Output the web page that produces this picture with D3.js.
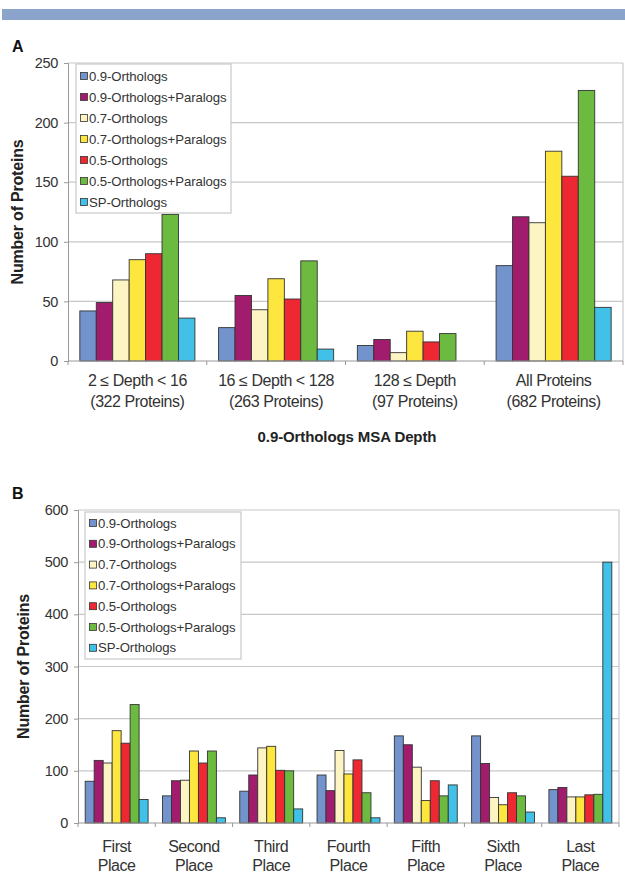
<!DOCTYPE html>
<html>
<head>
<meta charset="utf-8">
<script src="https://cdn.jsdelivr.net/npm/d3@7"></script>
<style>
  body { margin: 0; background: #fff; }
  svg { font-family: "Liberation Sans", Arial, sans-serif; }
</style>
</head>
<body>
<svg id="chart" width="625" height="873"></svg>
<script>
// series shared by both panels
const seriesNames = ["0.9-Orthologs", "0.9-Orthologs+Paralogs", "0.7-Orthologs",
  "0.7-Orthologs+Paralogs", "0.5-Orthologs", "0.5-Orthologs+Paralogs", "SP-Orthologs"];
const seriesColors = ["#7393cc", "#a11c6c", "#fdf4c4", "#fde63d", "#ee2833", "#6cbb40", "#41c1e7"];

// panel A
const depthCategories = [["2 \u2264 Depth < 16", "(322 Proteins)"], ["16 \u2264 Depth < 128", "(263 Proteins)"],
  ["128 \u2264 Depth", "(97  Proteins)"], ["All Proteins", "(682 Proteins)"]];
const depthValues = [
  [42, 28, 13, 80],    // 0.9-Orthologs
  [49, 55, 18, 121],   // 0.9-Orthologs+Paralogs
  [68, 43, 7, 116],    // 0.7-Orthologs
  [85, 69, 25, 176],   // 0.7-Orthologs+Paralogs
  [90, 52, 16, 155],   // 0.5-Orthologs
  [123, 84, 23, 227],  // 0.5-Orthologs+Paralogs
  [36, 10, 0, 45]      // SP-Orthologs
];
const depthTicks = [0, 50, 100, 150, 200, 250];

// panel B
const placeCategories = [["First", "Place"], ["Second", "Place"], ["Third", "Place"], ["Fourth", "Place"],
  ["Fifth", "Place"], ["Sixth", "Place"], ["Last", "Place"]];
const placeValues = [
  [80, 52, 61, 92, 167, 167, 64],
  [120, 81, 92, 62, 150, 114, 68],
  [115, 82, 144, 139, 107, 49, 50],
  [177, 138, 147, 94, 43, 35, 50],
  [153, 115, 101, 121, 81, 58, 54],
  [227, 138, 100, 58, 52, 52, 55],
  [45, 10, 27, 10, 73, 21, 500]
];
const placeTicks = [0, 100, 200, 300, 400, 500, 600];

const svg = d3.select("#chart");

// header band
svg.append("rect").attr("x", 2).attr("y", 9).attr("width", 623).attr("height", 11).attr("fill", "#8ba4cb");

function drawPanel(cfg) {
  const g = svg.append("g");
  const nCat = cfg.categories.length;

  const x0 = d3.scaleBand().domain(d3.range(nCat)).range([cfg.left, cfg.right]);
  const x1 = d3.scaleBand().domain(d3.range(seriesNames.length))
    .range([0, x0.bandwidth()]).paddingOuter(cfg.outer);
  const y = d3.scaleLinear().domain([0, cfg.max]).range([cfg.bottom, cfg.top]);

  // gridlines
  g.selectAll(".grid").data(cfg.ticks.slice(1)).enter().append("line")
    .attr("x1", cfg.left).attr("x2", cfg.right)
    .attr("y1", d => y(d)).attr("y2", d => y(d))
    .attr("stroke", "#c8c8c8").attr("stroke-width", 1.2);

  // right border
  g.append("line").attr("x1", cfg.right).attr("x2", cfg.right)
    .attr("y1", cfg.top).attr("y2", cfg.bottom)
    .attr("stroke", "#c8c8c8").attr("stroke-width", 1.2);

  // bars
  cfg.values.forEach((vals, si) => {
    g.selectAll(".bar" + si).data(vals).enter().append("rect")
      .attr("x", (d, ci) => x0(ci) + x1(si))
      .attr("y", d => y(d))
      .attr("width", x1.bandwidth())
      .attr("height", d => cfg.bottom - y(d))
      .attr("fill", seriesColors[si])
      .attr("stroke", d => d > 0 ? "#333" : "none")
      .attr("stroke-width", 0.9);
  });

  // y axis
  const yAxis = g.append("g").attr("transform", `translate(${cfg.left},0)`)
    .call(d3.axisLeft(y).tickValues(cfg.ticks).tickSize(4).tickPadding(6));
  yAxis.select(".domain").attr("stroke", "#999");
  yAxis.selectAll(".tick line").attr("stroke", "#999");
  yAxis.selectAll("text").attr("font-size", 14.5).attr("fill", "#333").attr("letter-spacing", -0.3);

  // x axis line with separator ticks
  g.append("line").attr("x1", cfg.left).attr("x2", cfg.right)
    .attr("y1", cfg.bottom).attr("y2", cfg.bottom).attr("stroke", "#999").attr("stroke-width", 1.2);
  g.selectAll(".xsep").data(d3.range(nCat + 1)).enter().append("line")
    .attr("x1", d => cfg.left + d * x0.step()).attr("x2", d => cfg.left + d * x0.step())
    .attr("y1", cfg.bottom).attr("y2", cfg.bottom + 4).attr("stroke", "#999");

  // category labels
  const lbl = g.selectAll(".cat").data(cfg.categories).enter().append("text")
    .attr("text-anchor", "middle").attr("font-size", 16).attr("letter-spacing", -0.45).attr("fill", "#333");
  lbl.each(function (d, i) {
    d.forEach((line, li) => {
      d3.select(this).append("tspan")
        .attr("x", x0(i) + x0.bandwidth() / 2)
        .attr("y", cfg.bottom + cfg.labelY + li * cfg.lineH)
        .text(line);
    });
  });

  // y title
  g.append("text")
    .attr("transform", `translate(${cfg.ytitleX},${(cfg.top + cfg.bottom) / 2}) rotate(-90)`)
    .attr("text-anchor", "middle").attr("font-size", 16).attr("letter-spacing", -0.2)
    .attr("font-weight", "bold").attr("fill", "#222")
    .text("Number of Proteins");

  // panel letter
  g.append("text").attr("x", 12).attr("y", cfg.top - 11).attr("font-size", 16)
    .attr("font-weight", "bold").attr("fill", "#111").text(cfg.letter);

  // legend
  const lg = g.append("g");
  lg.append("rect").attr("x", cfg.leg.x).attr("y", cfg.leg.y)
    .attr("width", cfg.leg.w).attr("height", cfg.leg.h)
    .attr("fill", "#fff").attr("stroke", "#c8c8c8").attr("stroke-width", 1.2);
  seriesNames.forEach((name, i) => {
    const ry = cfg.leg.y + cfg.leg.first + i * cfg.leg.step;
    lg.append("rect").attr("x", cfg.leg.x + 4.5).attr("y", ry - 3.5)
      .attr("width", 7).attr("height", 7)
      .attr("fill", seriesColors[i]).attr("stroke", "#333").attr("stroke-width", 0.8);
    lg.append("text").attr("x", cfg.leg.x + 13).attr("y", ry + 4.5)
      .attr("font-size", 13.2).attr("letter-spacing", -0.1).attr("fill", "#333").text(name);
  });

  return g;
}

drawPanel({
  letter: "A", categories: depthCategories, values: depthValues, ticks: depthTicks, max: 250,
  left: 68, right: 623, top: 63, bottom: 361, outer: 0.72,
  labelY: 25, lineH: 21, ytitleX: 23,
  leg: { x: 76, y: 64, w: 155, h: 149, first: 12, step: 21 }
});

svg.append("text").attr("x", 347).attr("y", 442).attr("text-anchor", "middle")
  .attr("font-size", 15).attr("letter-spacing", -0.1).attr("font-weight", "bold").attr("fill", "#222")
  .text("0.9-Orthologs MSA Depth");

drawPanel({
  letter: "B", categories: placeCategories, values: placeValues, ticks: placeTicks, max: 600,
  left: 78, right: 619, top: 510, bottom: 823, outer: 0.8,
  labelY: 29, lineH: 19, ytitleX: 29,
  leg: { x: 85, y: 512, w: 156, h: 147, first: 11, step: 20.8 }
});
</script>
</body>
</html>
